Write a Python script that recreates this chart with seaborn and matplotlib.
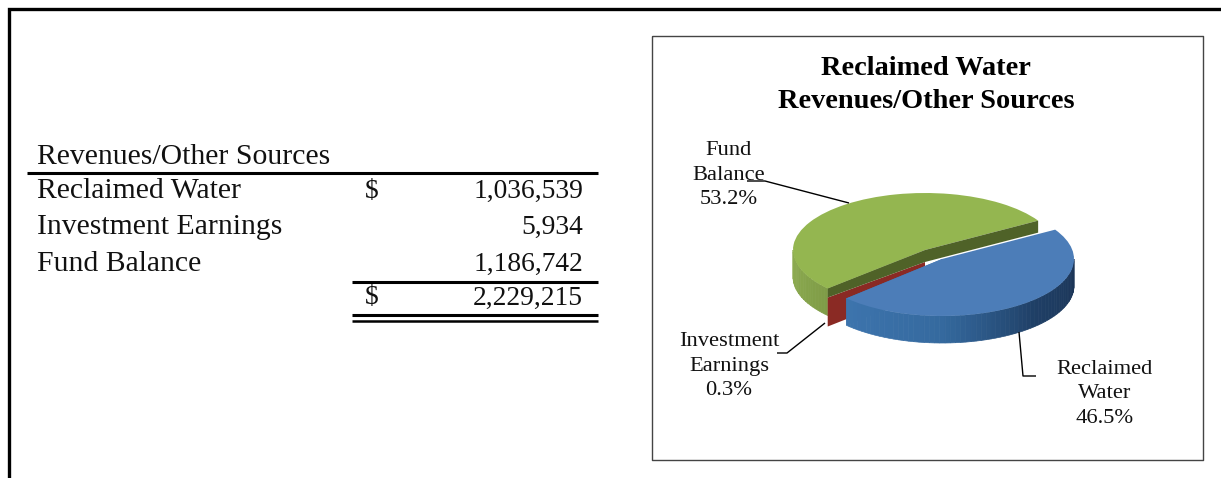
import matplotlib
matplotlib.use('Agg')
import matplotlib.pyplot as plt
import numpy as np
import seaborn as sns

# table + pie data
table_title = 'Revenues/Other Sources'
chart_title = 'Reclaimed Water\nRevenues/Other Sources'
names = ['Reclaimed Water', 'Investment Earnings', 'Fund Balance']
amounts = [1036539, 5934, 1186742]
total = 2229215
shares = [46.5, 0.3, 53.2]
pie_labels = ['Reclaimed\nWater', 'Investment\nEarnings', 'Fund\nBalance']

sns.set_theme(style='white')
plt.rcParams['font.family'] = ['Liberation Serif', 'DejaVu Serif']
plt.rcParams['lines.solid_capstyle'] = 'butt'

W, H = 1221, 478
fig = plt.figure(figsize=(W / 100, H / 100), dpi=100, facecolor='white')

# page axes, in image pixels
ax = fig.add_axes([0, 0, 1, 1])
ax.set_xlim(0, W)
ax.set_ylim(H, 0)
ax.axis('off')

# page border and chart box
ax.plot([8.5, 8.5, W], [H, 8.5, 8.5], color='black', lw=2.4, solid_joinstyle='miter')
ax.plot([652, 1203, 1203, 652, 652], [36, 36, 460, 460, 36], color='#444444', lw=1)

# table
FS = 21.4
FN = 19.8
row_y = [191, 227, 264]
ax.text(37, 157, table_title, fontsize=FS, color='#111111', va='center')
ax.plot([27, 598], [173, 173], color='black', lw=2.2)
for n, a, y in zip(names, amounts, row_y):
    ax.text(37, y, n, fontsize=FS, color='#111111', va='center')
    ax.text(583, y, f'{a:,}', fontsize=FN, color='#111111', va='center', ha='right')
ax.text(365, 191, '$', fontsize=FN, color='#111111', va='center')
ax.text(365, 298, '$', fontsize=FN, color='#111111', va='center')
ax.text(583, 298, f'{total:,}', fontsize=FN, color='#111111', va='center', ha='right')
ax.plot([352, 598], [282, 282], color='black', lw=2.2)
ax.plot([352, 598], [315, 315], color='black', lw=2.2)
ax.plot([352, 598], [321, 321], color='black', lw=1.8)

ax.text(926, 85, chart_title, fontsize=20.4, fontweight='bold', color='black',
        ha='center', va='center', linespacing=1.38)

# pie axes: one data unit is 132 px across and 57 px down, which gives the tilt
CX, CY, RX, RY = 925, 250, 132, 57
pie_ax = fig.add_axes([0, 0, 1, 1])
pie_ax.patch.set_alpha(0)

start = 31
fracs = np.array(shares) / 100
fund_a = (start, start + 360 * fracs[2])
inv_a = (fund_a[1], fund_a[1] + 360 * fracs[1])
rec_a = (inv_a[1], start + 360)

depth = 27 / RY
bx, by = 17 / RX, -9 / RY   # pull-out of the blue slice


def rim(a, dx=0, dy=0):
    t = np.radians(a)
    return np.cos(t) + dx, np.sin(t) + dy


def side(a0, a1, colors, dx=0, dy=0, z=2):
    steps = np.linspace(a0, a1, len(colors) + 1)
    for i, c in enumerate(colors):
        t = np.linspace(steps[i], steps[i + 1], 5)
        x, y = rim(t, dx, dy)
        pie_ax.fill(np.r_[x, x[::-1]], np.r_[y, y[::-1] - depth], color=c, lw=0.5, zorder=z)


# side walls of the green slice
side(180, fund_a[1], sns.blend_palette(['#8fae52', '#7f9c47'], 20), z=1)

# dark cut faces inside the green slice
cut = 12 / RY
for a in fund_a:
    x, y = rim(a)
    pie_ax.fill([0, x, x, 0], [0, y, y - cut + (3 / RY if a > 90 else 0), -cut],
                color='#4f6228', lw=0, zorder=3)

# red slice: thin top plus its cut face
x, y = rim(fund_a[1])
pie_ax.fill([0, x, x, 0], [-cut, y - 9 / RY, y - 38 / RY, -38 / RY],
            color='#8a2a24', lw=0, zorder=2.8)

# blue side wall, gets darker to the right
side(rec_a[0], 360, sns.blend_palette(['#3d74ad', '#356a9f', '#1f3f66', '#1c3557'], 60),
     bx, by, z=4)
x, y = rim(rec_a[0], bx, by)
pie_ax.fill([x, x, bx, bx], [y, y - depth, by - depth, by], color='#3d74ad', lw=0, zorder=3.5)

# top faces go through the library pie
w1, _ = pie_ax.pie([fracs[2], fracs[1]], colors=['#94b650', '#94b650'], startangle=start,
                   normalize=False, radius=1, center=(0, 0), frame=True,
                   wedgeprops=dict(lw=0))
w2, _ = pie_ax.pie([fracs[0]], colors=['#4c7db8'], startangle=rec_a[0],
                   normalize=False, radius=1, center=(bx, by), frame=True,
                   wedgeprops=dict(lw=0))
for w in w1:
    w.set_zorder(2.5)
w2[0].set_zorder(5)

pie_ax.set_aspect('auto')
pie_ax.set_xlim(-CX / RX, (W - CX) / RX)
pie_ax.set_ylim((CY - H) / RY, CY / RY)
pie_ax.axis('off')

# leader lines and labels sit above the pie
top = fig.add_axes([0, 0, 1, 1])
top.set_xlim(0, W)
top.set_ylim(H, 0)
top.axis('off')
top.patch.set_alpha(0)
LW = 1
top.plot([747, 765, 849], [181, 181, 203], color='black', lw=LW)
top.plot([825, 787, 777], [323, 353, 353], color='black', lw=LW)
top.plot([1019, 1023, 1036], [332, 376, 376], color='black', lw=LW)

FP = 16.2
label_pos = [(1105, 394), (729, 366), (729, 175)]
for lab, s, (x, y) in zip(pie_labels, shares, label_pos):
    top.text(x, y, f'{lab}\n{s}%', fontsize=FP, color='#111111', ha='center', va='center',
             linespacing=1.38)

fig.savefig('out.png', dpi=100)
